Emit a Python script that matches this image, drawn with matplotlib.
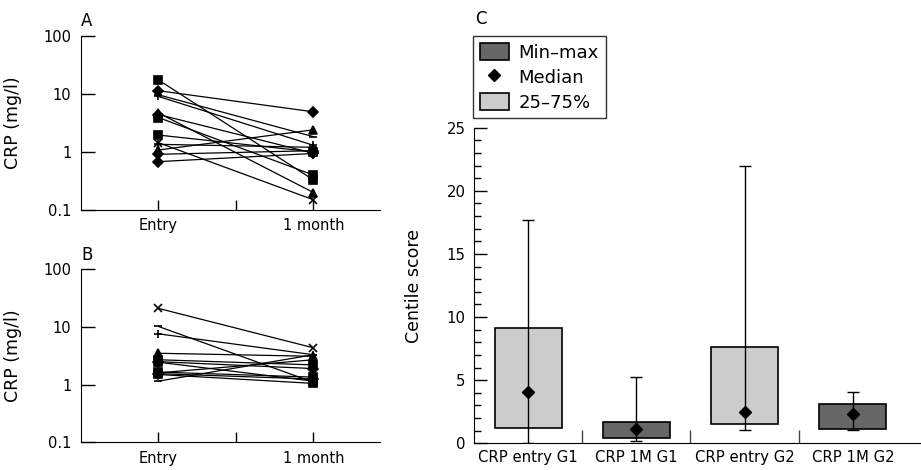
import matplotlib
matplotlib.use("Agg")
import matplotlib.pyplot as plt
from matplotlib.patches import Patch
from matplotlib.lines import Line2D
from matplotlib.ticker import NullLocator

plt.rcParams['font.family'] = ['DejaVu Sans']

# panel A: CRP (mg/l) at entry and at 1 month, one line per patient
markers_a = ['s', 'D', '_', '+', '^', 'D', 's', 's', 'x', '+', '^', 'D', 'D']
entry_a = [17.3, 11.3, 9.6, 9.0, 4.7, 4.4, 3.9, 1.95, 1.44, 1.35, 1.08, 0.91, 0.68]
month_a = [0.33, 4.9, 1.83, 1.3, 0.2, 0.95, 0.40, 1.0, 0.15, 1.2, 2.4, 1.05, 0.94]

# panel B
markers_b = ['x', '_', '+', '^', 's', 'D', 's', 's', 'D', '_', '^', 's']
entry_b = [21, 10.2, 7.6, 3.5, 2.7, 2.5, 2.45, 1.65, 1.55, 1.15, 1.6, 1.5]
month_b = [4.35, 1.1, 3.3, 3.1, 2.2, 1.9, 1.15, 1.35, 1.25, 3.3, 2.7, 1.05]

time_labels = ['Entry', '', '1 month']

# panel C: centile scores
groups = ['CRP entry G1', 'CRP 1M G1', 'CRP entry G2', 'CRP 1M G2']
c_min = [0.0, 0.18, 1.08, 1.05]
c_q1 = [1.2, 0.4, 1.5, 1.1]
c_med = [4.05, 1.13, 2.5, 2.3]
c_q3 = [9.1, 1.66, 7.66, 3.09]
c_max = [17.7, 5.28, 21.97, 4.09]
box_colors = ['#cccccc', '#666666', '#cccccc', '#666666']

W, H = 921, 470
fig = plt.figure(figsize=(W / 100, H / 100), dpi=100)


def crp_panel(rect, entry, month, markers, letter):
    ax = fig.add_axes(rect)
    for e, m, mk in zip(entry, month, markers):
        ax.plot([1, 3], [e, m], color='black', lw=0.9, marker=mk,
                markersize=5.5, markeredgewidth=1.2)
    ax.set_yscale('log')
    ax.set_ylim(0.1, 100)
    ax.set_xlim(0, 3.86)
    ax.set_yticks([0.1, 1, 10, 100])
    ax.set_yticklabels(['0.1', '1', '10', '100'])
    ax.yaxis.set_minor_locator(NullLocator())
    ax.set_xticks([1, 2, 3])
    ax.set_xticklabels(time_labels)
    ax.tick_params(axis='y', direction='in', length=10, width=1, pad=7, labelsize=10.5)
    ax.tick_params(axis='x', direction='in', length=7, width=1, pad=6, labelsize=10.5)
    for s in ['top', 'right']:
        ax.spines[s].set_visible(False)
    ax.set_ylabel('CRP (mg/l)', fontsize=12.5)
    ax.yaxis.set_label_coords(-0.197, 0.5)
    ax.text(0.0, 1.03, letter, transform=ax.transAxes, ha='left', va='bottom', fontsize=12)
    return ax


crp_panel([81 / W, 1 - 210 / H, 299 / W, 174.3 / H], entry_a, month_a, markers_a, 'A')
crp_panel([81 / W, 1 - 442.3 / H, 299 / W, 173 / H], entry_b, month_b, markers_b, 'B')

# panel C
axc = fig.add_axes([474 / W, 1 - 443.3 / H, 447 / W, 315.6 / H])
xs = list(range(len(groups)))
for x, lo, q1, med, q3, hi, col in zip(xs, c_min, c_q1, c_med, c_q3, c_max, box_colors):
    axc.bar(x, q3 - q1, bottom=q1, width=0.62, color=col, edgecolor='black',
            linewidth=1.2, zorder=2)
    axc.errorbar(x, med, yerr=[[med - lo], [hi - med]], fmt='none', ecolor='black',
                 elinewidth=1, capsize=4, capthick=1, zorder=3)
    axc.plot(x, med, marker='D', color='black', markersize=6.5, zorder=4)

axc.set_xlim(-0.5, 3.63)
axc.set_ylim(0, 25)
axc.set_yticks(range(0, 26, 5))
axc.set_yticks(range(0, 26), minor=True)
axc.set_xticks(xs)
axc.set_xticklabels(groups)
axc.set_xticks([0.5, 1.5, 2.5], minor=True)
axc.tick_params(axis='x', which='major', length=0, pad=5, labelsize=10.7)
axc.tick_params(axis='x', which='minor', direction='in', length=9.5, width=1, color='#444444')
axc.tick_params(axis='y', which='major', direction='in', length=9.5, width=1, pad=6, labelsize=10.7)
axc.tick_params(axis='y', which='minor', direction='in', length=5, width=1)
for s in ['top', 'right']:
    axc.spines[s].set_visible(False)
axc.set_ylabel('Centile score', fontsize=12.5)
axc.yaxis.set_label_coords(-0.114, 0.5)
fig.text(475 / W, 1 - 28 / H, 'C', ha='left', va='bottom', fontsize=12)

handles = [
    Patch(facecolor='#666666', edgecolor='black', linewidth=1.2),
    Line2D([], [], marker='D', color='black', linestyle='none', markersize=6),
    Patch(facecolor='#cccccc', edgecolor='black', linewidth=1.2),
]
leg = fig.legend(handles, ['Min–max', 'Median', '25–75%'],
                 loc='upper left', bbox_to_anchor=(473 / W, 1 - 36 / H),
                 borderaxespad=0, fontsize=13, fancybox=False, framealpha=1,
                 edgecolor='#333333', handlelength=1.6, handleheight=1.1,
                 handletextpad=0.55, labelspacing=0.34, borderpad=0.38)
leg.get_frame().set_linewidth(1)

fig.savefig('out.png', dpi=100)
